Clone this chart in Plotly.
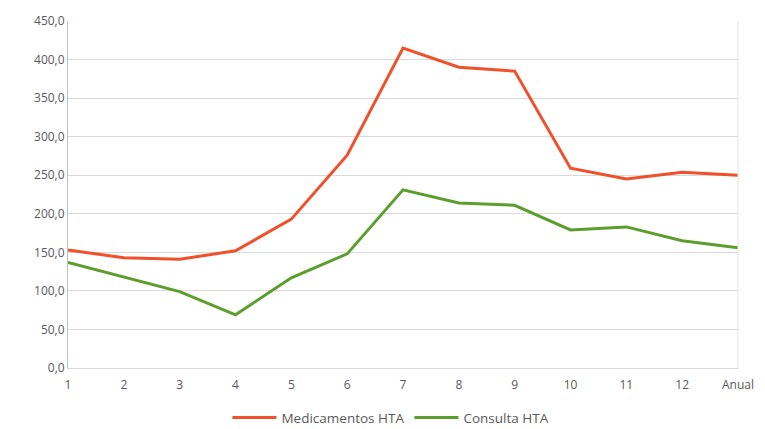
import plotly.graph_objects as go

categories = ["1", "2", "3", "4", "5", "6", "7", "8", "9", "10", "11", "12", "Anual"]
medicamentos_hta = [153, 143, 141, 152, 193, 276, 415, 390, 385, 259, 245, 254, 250]
consulta_hta = [137, 118, 99, 69, 117, 148, 231, 214, 211, 179, 183, 165, 156]
y_ticks = [0, 50, 100, 150, 200, 250, 300, 350, 400, 450]

fig = go.Figure()
fig.add_trace(go.Scatter(
    x=categories, y=medicamentos_hta, mode="lines", name="Medicamentos HTA",
    line=dict(color="#F0502A", width=3),
))
fig.add_trace(go.Scatter(
    x=categories, y=consulta_hta, mode="lines", name="Consulta HTA",
    line=dict(color="#5C9E2C", width=3),
))

fig.update_layout(
    width=765, height=429,
    margin=dict(l=68, r=27, t=21, b=61, autoexpand=False),
    paper_bgcolor="white", plot_bgcolor="white",
    separators=",.",
    font=dict(family="Open Sans, Noto Sans, sans-serif", size=12, color="#595959"),
    showlegend=True,
    legend=dict(orientation="h", x=0.482, xanchor="center", xref="paper",
                y=0.026, yanchor="middle", yref="container",
                font=dict(size=13.5, color="#595959"), itemwidth=44,
                tracegroupgap=0),
)
fig.update_xaxes(
    type="category", range=[0, len(categories) - 1], automargin=False,
    showgrid=False, showline=True, linecolor="#D9D9D9", linewidth=1,
    ticks="", tickfont=dict(size=12, color="#595959"), ticklabelstandoff=6,
    mirror=False,
)
fig.update_yaxes(
    range=[0, 450], tickvals=y_ticks, tickformat=".1f", automargin=False,
    showgrid=True, gridcolor="#D9D9D9", gridwidth=1,
    showline=True, linecolor="#BFBFBF", linewidth=1,
    zeroline=False, ticks="", tickfont=dict(size=12, color="#595959"),
)
# Right-hand frame edge of the plotting area
fig.add_shape(type="line", xref="paper", yref="paper", x0=1, x1=1, y0=0, y1=1,
              line=dict(color="#E3E3E3", width=1))

fig.write_html("out.html")
